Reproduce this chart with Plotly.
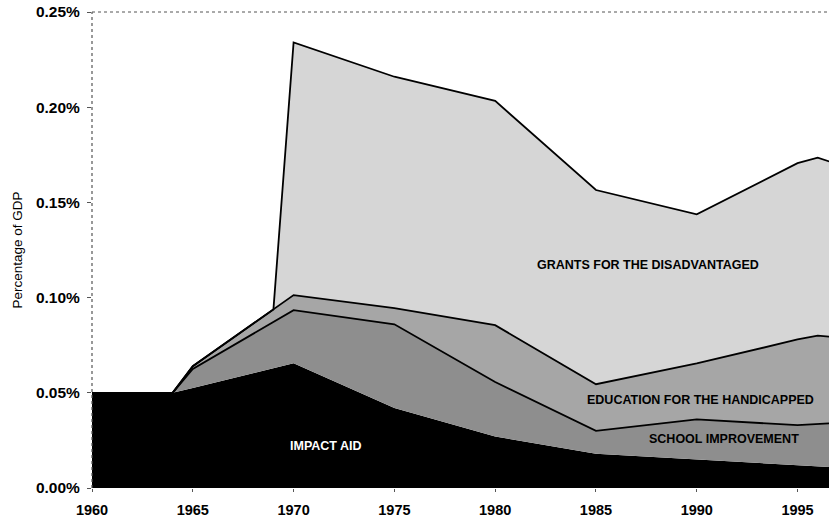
import plotly.graph_objects as go

# Years (common x for the stacked areas)
years = [1960, 1964, 1965, 1969, 1970, 1975, 1980, 1985, 1990, 1995, 1996, 1996.6]

# Series values, percent of GDP (stack increments)
impact_aid = [0.050, 0.050, 0.0525, 0.0629, 0.0655, 0.042, 0.027, 0.018, 0.015, 0.012, 0.0115, 0.011]
school_improvement = [0.0, 0.0, 0.010, 0.0243, 0.0279, 0.044, 0.0287, 0.012, 0.021, 0.021, 0.022, 0.023]
education_handicapped = [0.0, 0.0, 0.0015, 0.0066, 0.0079, 0.0085, 0.0298, 0.0245, 0.0294, 0.045, 0.0465, 0.0455]
grants_disadvantaged = [0.0, 0.0, 0.0, 0.0, 0.1327, 0.1215, 0.1178, 0.102, 0.0783, 0.0926, 0.0935, 0.0919]

x_ticks = [1960, 1965, 1970, 1975, 1980, 1985, 1990, 1995]
y_ticks = [0.00, 0.05, 0.10, 0.15, 0.20, 0.25]

series = [
    ("IMPACT AID", impact_aid, "#000000", 0),
    ("SCHOOL IMPROVEMENT", school_improvement, "#8e8e8e", 1.8),
    ("EDUCATION FOR THE HANDICAPPED", education_handicapped, "#a6a6a6", 1.8),
    ("GRANTS FOR THE DISADVANTAGED", grants_disadvantaged, "#d6d6d6", 1.8),
]

fig = go.Figure()
for name, vals, col, lw in series:
    fig.add_trace(go.Scatter(
        x=years, y=vals, name=name, stackgroup="one", mode="lines",
        line=dict(color="#000000", width=lw), fillcolor=col,
        hoverinfo="x+y+name",
    ))

label_font = dict(family="Liberation Sans Narrow, Arial Narrow, Liberation Sans, Arial", size=12.5, color="#000000")
labels = [
    ("GRANTS FOR THE DISADVANTAGED", 1987.6, 0.117, "#000000"),
    ("EDUCATION FOR THE HANDICAPPED", 1990.2, 0.046, "#000000"),
    ("SCHOOL IMPROVEMENT", 1991.35, 0.026, "#000000"),
    ("IMPACT AID", 1971.6, 0.022, "#ffffff"),
]
for txt, lx, ly, c in labels:
    fig.add_annotation(x=lx, y=ly, text="<b>" + txt + "</b>", showarrow=False,
                       font=dict(label_font, color=c), xanchor="center", yanchor="middle")

# dotted frame lines
fig.add_shape(type="line", xref="paper", yref="paper", x0=0, x1=1, y0=1, y1=1,
              line=dict(color="#555555", width=1, dash="dot"))
fig.add_shape(type="line", xref="paper", yref="paper", x0=0, x1=0, y0=0, y1=1,
              line=dict(color="#555555", width=1.2, dash="dot"))

fig.update_layout(
    width=829, height=519,
    margin=dict(l=92, r=0, t=12, b=31),
    paper_bgcolor="white", plot_bgcolor="white",
    showlegend=False,
    font=dict(family="Liberation Sans, Arial, sans-serif", color="#000000"),
)
fig.update_xaxes(
    range=[1960, 1996.56], tickvals=x_ticks, ticktext=[str(v) for v in x_ticks],
    tickfont=dict(size=14.5, family="Liberation Sans, Arial", weight="bold", color="#000000"),
    ticks="outside", ticklen=3, tickcolor="#555555", showgrid=False, zeroline=False,
    showline=False, ticklabelstandoff=6,
)
fig.update_yaxes(
    range=[0, 0.25], tickvals=y_ticks, ticktext=["%.2f%%" % v for v in y_ticks],
    tickfont=dict(size=15.5, family="Liberation Sans, Arial", weight="bold", color="#000000"),
    ticks="outside", ticklen=4, tickcolor="#555555", showgrid=False, zeroline=False,
    showline=False, ticklabelstandoff=4,
    title=dict(text="Percentage of GDP",
               font=dict(size=13.5, family="Liberation Sans, Arial", color="#000000"), standoff=10),
)

fig.write_html("out.html", config={"displayModeBar": False},
               post_script="document.body.style.margin='0';document.body.style.overflow='hidden';")
